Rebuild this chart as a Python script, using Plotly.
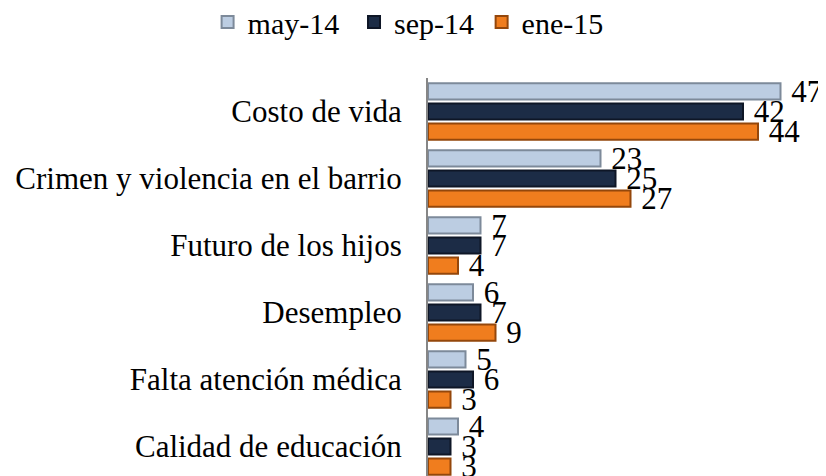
import plotly.graph_objects as go

categories = [
    "Costo de vida",
    "Crimen y violencia en el barrio",
    "Futuro de los hijos",
    "Desempleo",
    "Falta atención médica",
    "Calidad de educación",
]
series_names = ["may-14", "sep-14", "ene-15"]
may_14 = [47, 23, 7, 6, 5, 4]
sep_14 = [42, 25, 7, 7, 6, 3]
ene_15 = [44, 27, 4, 9, 3, 3]

FILL = {"may-14": "#bccde2", "sep-14": "#1c2c46", "ene-15": "#f07d1e"}
EDGE = {"may-14": "#7d8a9a", "sep-14": "#0e1626", "ene-15": "#94470b"}
SERIF = "Liberation Serif, Times New Roman, serif"
LEGEND_IDS = ["legend", "legend2", "legend3"]
LEGEND_X = [0.244, 0.423, 0.579]

fig = go.Figure()
for name, vals, lg in zip(series_names, [may_14, sep_14, ene_15], LEGEND_IDS):
    fig.add_trace(
        go.Bar(
            name=name,
            y=categories,
            x=vals,
            orientation="h",
            texttemplate=" %{x}",
            textposition="outside",
            constraintext="none",
            textfont=dict(family=SERIF, size=31, color="#000000"),
            cliponaxis=False,
            legend=lg,
            marker=dict(color=FILL[name], line=dict(color=EDGE[name], width=2)),
        )
    )

# page body keeps an 8px margin, so the figure is drawn 8px smaller
fig.update_layout(
    width=818,
    height=468,
    barmode="group",
    bargap=0.1,
    bargroupgap=0.2,
    margin=dict(l=420, r=23, t=70, b=0, autoexpand=False),
    paper_bgcolor="#ffffff",
    plot_bgcolor="#ffffff",
    font=dict(family=SERIF, size=31, color="#000000"),
    showlegend=True,
)
for lg, lx in zip(LEGEND_IDS, LEGEND_X):
    fig.update_layout(
        {
            lg: dict(
                orientation="h",
                xref="container",
                yref="container",
                x=lx,
                xanchor="left",
                y=0.970,
                yanchor="middle",
                font=dict(family=SERIF, size=30, color="#000000"),
                bgcolor="rgba(0,0,0,0)",
            )
        }
    )
fig.update_xaxes(range=[0, 50], visible=False, showgrid=False, zeroline=False)
fig.update_yaxes(
    categoryorder="array",
    categoryarray=categories,
    range=[5.44, -0.5],
    automargin=False,
    showline=True,
    linecolor="#868686",
    linewidth=2,
    showgrid=False,
    ticks="",
    ticklabelstandoff=18,
    tickfont=dict(family=SERIF, size=31, color="#000000"),
)

fig.write_html("out.html")
